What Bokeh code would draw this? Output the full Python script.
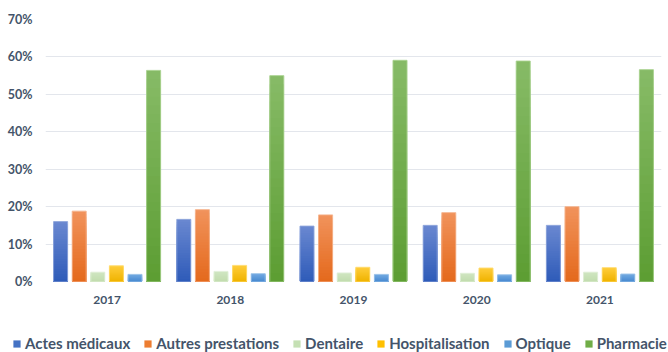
from bokeh.plotting import figure
from bokeh.layouts import column
from bokeh.models import (ColumnDataSource, FactorRange, Range1d, Legend, LegendItem,
                          PrintfTickFormatter, FixedTicker)
from bokeh.transform import dodge
from bokeh.embed import file_html
from bokeh.resources import INLINE

# Share of reimbursements per care category (%), by year
years = ["2017", "2018", "2019", "2020", "2021"]
series = ["Actes médicaux", "Autres prestations", "Dentaire",
          "Hospitalisation", "Optique", "Pharmacie"]
actes_medicaux = [16.0, 16.6, 14.8, 15.0, 15.0]
autres_prestations = [18.8, 19.2, 17.8, 18.4, 20.0]
dentaire = [2.5, 2.7, 2.3, 2.2, 2.5]
hospitalisation = [4.2, 4.3, 3.8, 3.6, 3.7]
optique = [1.9, 2.1, 1.9, 1.8, 2.0]
pharmacie = [56.4, 55.0, 59.1, 58.9, 56.6]
y_ticks = [0, 10, 20, 30, 40, 50, 60, 70]

values = [actes_medicaux, autres_prestations, dentaire, hospitalisation, optique, pharmacie]

# gradient colours: (top, bottom, mid, edge)
palette = [
    ("#6a88d0", "#2e5bb9", "#4472c4", "#8fa6dc"),
    ("#f1935c", "#e4691c", "#ed7d31", "#f5b58f"),
    ("#d0e6c2", "#c1dcae", "#c5e0b4", "#e2efd9"),
    ("#ffcd3c", "#efb300", "#ffc000", "#ffdb70"),
    ("#74abe2", "#4889d0", "#5b9bd5", "#9cc3e9"),
    ("#87bb67", "#5c9d32", "#70ad47", "#a9d18e"),
]

TEXT = "#44546a"
FONT = "Lato"
N_STEPS = 24
SLOT = 0.151
BAR_W = 0.114


def hex_to_rgb(h):
    h = h.lstrip("#")
    return tuple(int(h[i:i + 2], 16) for i in (0, 2, 4))


def mix(c1, c2, t):
    a, b = hex_to_rgb(c1), hex_to_rgb(c2)
    return "#%02x%02x%02x" % tuple(round(a[i] + (b[i] - a[i]) * t) for i in range(3))


p = figure(width=668, height=320,
           x_range=FactorRange(*years, range_padding=0),
           y_range=Range1d(0, 70),
           output_backend="svg", toolbar_location=None,
           min_border_left=45, min_border_right=7,
           min_border_top=19, min_border_bottom=39,
           outline_line_color=None, background_fill_color="white",
           border_fill_color="white", frame_align=False)

for i, (vals, (top_c, bot_c, mid_c, edge_c)) in enumerate(zip(values, palette)):
    off = (i - 2.5) * SLOT
    # vertical gradient: nested bars, tallest first with the lightest colour
    gx, gtop, gcol = [], [], []
    for k in range(N_STEPS):
        frac = (N_STEPS - k) / N_STEPS
        col = mix(bot_c, top_c, (N_STEPS - k - 0.5) / N_STEPS)
        for yr, v in zip(years, vals):
            gx.append(yr)
            gtop.append(v * frac)
            gcol.append(col)
    p.vbar(x=dodge("x", off, range=p.x_range), top="top", bottom=0, width=BAR_W,
           source=ColumnDataSource(dict(x=gx, top=gtop, color=gcol)),
           fill_color="color", line_color=None)

    # thin light outline
    p.vbar(x=dodge("x", off, range=p.x_range), top="top", bottom=0, width=BAR_W,
           source=ColumnDataSource(dict(x=years, top=vals)),
           fill_alpha=0, line_color=edge_c, line_width=1, line_alpha=0.9)

# axes
p.yaxis.ticker = FixedTicker(ticks=y_ticks)
p.yaxis.formatter = PrintfTickFormatter(format="%d%%")
for ax in (p.xaxis, p.yaxis):
    ax.axis_line_color = None
    ax.major_tick_line_color = None
    ax.minor_tick_line_color = None
    ax.major_tick_out = 0
    ax.major_tick_in = 0
    ax.major_label_text_font = FONT
    ax.major_label_text_font_style = "bold"
    ax.major_label_text_color = TEXT
p.yaxis.major_label_text_font_size = "12.5px"
p.xaxis.major_label_text_font_size = "12px"
p.yaxis.major_label_standoff = 13
p.xaxis.major_label_standoff = 14

p.xgrid.grid_line_color = None
p.ygrid.grid_line_color = "#e3e6ec"
p.ygrid.grid_line_width = 1

# legend strip underneath the chart
lp = figure(width=668, height=32, x_range=Range1d(0, 1), y_range=Range1d(0, 1),
            output_backend="svg", toolbar_location=None,
            min_border=0, outline_line_color=None,
            background_fill_color="white", border_fill_color="white",
            frame_align=False)
lp.axis.visible = False
lp.grid.visible = False

items = []
for name, (top_c, bot_c, mid_c, edge_c) in zip(series, palette):
    # one off-range point so the swatch renderer has something to draw from
    swatch = lp.vbar(x=[-5], top=[0], width=0.1, fill_color=mid_c, line_color=None)
    items.append(LegendItem(label=name, renderers=[swatch]))

legend = Legend(items=items, orientation="horizontal", location=(12, 0),
                label_text_font=FONT, label_text_font_style="bold",
                label_text_font_size="15px", label_text_color=TEXT,
                glyph_width=9, glyph_height=9, label_standoff=4, spacing=13,
                padding=0, margin=0, border_line_color=None,
                background_fill_alpha=0)
lp.add_layout(legend, "center")

open("out.html", "w").write(file_html(column(p, lp, spacing=0), INLINE))
